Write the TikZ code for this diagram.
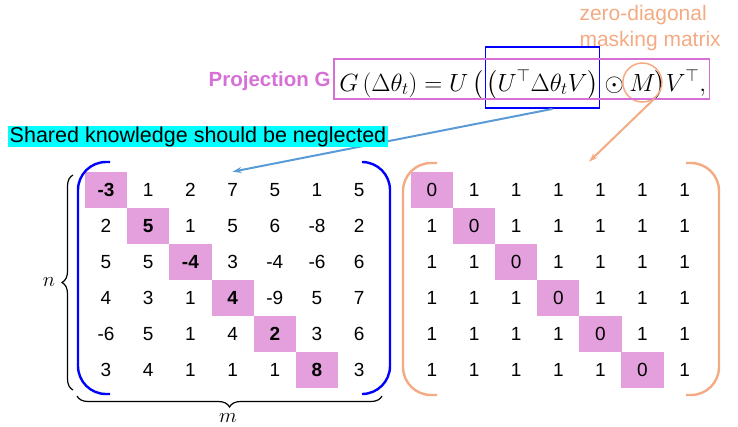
\documentclass[tikz,border=0pt]{standalone}
\usepackage{fontspec}
\setmainfont{Liberation Sans}
\usepackage{amsmath,amssymb}
\usetikzlibrary{arrows.meta,positioning,decorations.pathreplacing,calc}
\definecolor{projpink}{RGB}{214,112,214}
\definecolor{cellpink}{RGB}{228,160,220}
\definecolor{maskorange}{RGB}{244,170,130}
\definecolor{arrowblue}{RGB}{91,155,213}
\definecolor{hlcyan}{RGB}{0,255,255}

\begin{document}
\begin{tikzpicture}[x=1pt,y=-1pt,
  cell/.style={minimum width=42.2pt,minimum height=36.2pt,inner sep=0pt,
    font=\fontsize{19}{21}\selectfont},
  diagcell/.style={cell,fill=cellpink,font=\fontsize{19}{21}\selectfont\bfseries},
  maskcell/.style={cell,fill=cellpink},
  eqpart/.style={inner sep=0pt,font=\fontsize{24}{28}\selectfont},
  innerbox/.style={eqpart,draw=blue,line width=1.8pt,minimum width=111pt,
    minimum height=61pt,inner xsep=1pt,text height=30pt,text depth=3pt},
  maskring/.style={circle,draw=maskorange,line width=1.5pt,minimum size=39pt},
  projframe/.style={draw=projpink,line width=1.4pt},
  bluebracket/.style={draw=blue,line width=2.4pt,rounded corners=28pt},
  orangebracket/.style={draw=maskorange,line width=2.4pt,rounded corners=28pt},
  brace/.style={decorate,decoration={brace,amplitude=11pt},line width=1.2pt},
  bluearrow/.style={-{Stealth[length=9pt,width=6pt]},draw=arrowblue,line width=2pt},
  orangearrow/.style={-{Stealth[length=9pt,width=6pt]},draw=maskorange,line width=2pt}
]
\useasboundingbox (0,0) rectangle (738,426);

% left matrix: Delta theta_t
\foreach \vals [count=\r] in {{-3,1,2,7,5,1,5},{2,5,1,5,6,-8,2},{5,5,-4,3,-4,-6,6},
    {4,3,1,4,-9,5,7},{-6,5,1,4,2,3,6},{3,4,1,1,1,8,3}}
  \foreach \v [count=\c] in \vals {
    \ifnum\r=\c
      \node[diagcell] (l-\r-\c) at ({63.8+42.2*\c},{154+36*\r}) {\v};
    \else
      \node[cell] (l-\r-\c) at ({63.8+42.2*\c},{154+36*\r}) {\v};
    \fi
  }

% right matrix: mask M
\foreach \r in {1,...,6}
  \foreach \c in {1,...,7} {
    \ifnum\r=\c
      \node[maskcell] (r-\r-\c) at ({389.9+42.1*\c},{154+36*\r}) {0};
    \else
      \node[cell] (r-\r-\c) at ({389.9+42.1*\c},{154+36*\r}) {1};
    \fi
  }

% brackets
\draw[bluebracket] (110,162) -- (78,162) -- (78,394) -- (110,394);
\draw[bluebracket] (362,162) -- (390,162) -- (390,394) -- (362,394);
\draw[orangebracket] (437,163) -- (403,163) -- (403,395) -- (437,395);
\draw[orangebracket] (686,163) -- (719,163) -- (719,395) -- (686,395);

% dimensions
\draw[brace] (73,390) -- (73,175);
\draw[brace] (382,396) -- (77,396);
\node[font=\fontsize{21}{23}\selectfont] (n) at (49,282) {$n$};
\node[font=\fontsize{21}{23}\selectfont] (m) at (228,418) {$m$};

% projection equation
\node[innerbox] (inner) at (542.5,77.5) {$\bigl(U^{\top}\Delta\theta_t V\bigr)$};
\node[eqpart,anchor=base east] (eqhead) at ([xshift=-1pt]inner.base west)
  {$G\left(\Delta\theta_t\right)=U\,\bigl($};
\node[eqpart,anchor=base west] (odot) at ([xshift=4pt]inner.base east) {$\odot$};
\node[eqpart,anchor=base west] (mletter) at ([xshift=5pt]odot.base east) {$M$};
\node[eqpart,anchor=base west] (tail) at ([xshift=-1pt]mletter.base east) {$\bigr)V^{\top},$};
\node[maskring] (mask) at (mletter) {};
\draw[projframe] ($(eqhead.base west)+(-5,-32)$) rectangle ($(tail.base east)+(3,8)$);
\node[anchor=base east,text=projpink,font=\fontsize{20.5}{24}\selectfont\bfseries]
  (projG) at ([xshift=-5pt,yshift=5pt]eqhead.base west) {Projection G};

\node[text=maskorange,align=left,anchor=west,font=\fontsize{21}{26}\selectfont]
  (masktxt) at (576,28) {zero-diagonal\\masking matrix};

% arrows
\draw[bluearrow] ([xshift=10pt]inner.south) -- (l-1-4.north);
\node[fill=hlcyan,inner xsep=2pt,inner ysep=0pt,font=\fontsize{21.5}{24}\selectfont]
  (shared) at (198,136.5) {Shared knowledge should be neglected};
\draw[orangearrow] (mask.-55) -- ($(r-1-5.north west)+(10,-10)$);
\end{tikzpicture}
\end{document}
